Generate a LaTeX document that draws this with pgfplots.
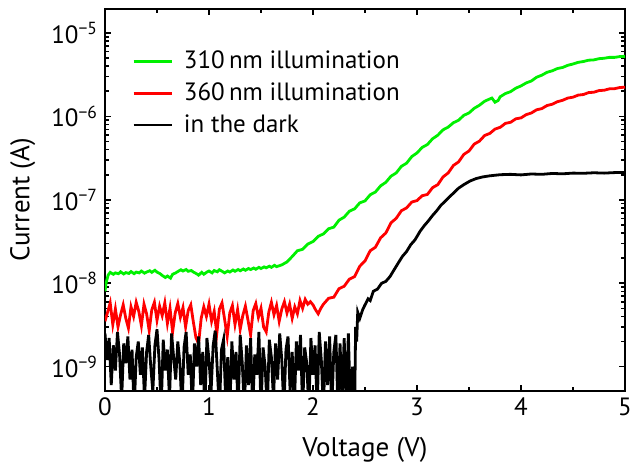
\documentclass[border=0pt]{standalone}
\usepackage{fontspec}
\setmainfont{PT Sans}
\usepackage{pgfplots}
\pgfplotsset{compat=1.18}

\begin{document}
\begin{tikzpicture}
\begin{axis}[
  name=ax,
  scale only axis,
  width=260pt, height=191pt,
  ymode=log,
  xmin=0, xmax=5,
  ymin=5.1e-10, ymax=1.94e-5,
  xtick={0,1,2,3,4,5},
  minor xtick={0.5,1.5,2.5,3.5,4.5},
  ytick={1e-9,1e-8,1e-7,1e-6,1e-5},
  yticklabels={10\textsuperscript{−9},10\textsuperscript{−8},10\textsuperscript{−7},10\textsuperscript{−6},10\textsuperscript{−5}},
  tick align=inside,
  major tick length=3pt, minor tick length=1.8pt,
  every tick/.style={line width=0.8pt, black},
  axis line style={line width=1pt},
  /pgf/number format/assume math mode=true,
  tick label style={font=\fontsize{12.5}{13}\selectfont},
  xlabel={Voltage (V)}, ylabel={Current (A)},
  label style={font=\fontsize{13.5}{15}\selectfont},
  xlabel style={at={(axis description cs:0.5,0)}, anchor=center, yshift=-29.5pt},
  ylabel style={at={(axis description cs:-0.158,0.5)}, anchor=center},
  legend style={draw=none, fill=none, at={(0.04,0.912)}, anchor=north west,
    font=\fontsize{12.5}{14}\selectfont, row sep=1.5pt,
    /tikz/every odd column/.style={column sep=3.5pt}},
  legend cell align=left,
  legend image code/.code={\draw[#1, line width=1.4pt] (0pt,0pt) -- (19pt,0pt);},
]
\addplot[color={rgb,255:red,0;green,240;blue,0}, line width=1.4pt] coordinates {
(0.00,8.0e-9) (0.01,1.0e-8) (0.03,1.25e-8) (0.05,1.35e-8) (0.08,1.28e-8) (0.10,1.33e-8)
(0.13,1.30e-8) (0.15,1.37e-8) (0.18,1.29e-8) (0.20,1.34e-8) (0.23,1.31e-8) (0.25,1.38e-8)
(0.28,1.30e-8) (0.30,1.36e-8) (0.33,1.33e-8) (0.35,1.40e-8) (0.38,1.32e-8) (0.40,1.36e-8)
(0.43,1.41e-8) (0.45,1.35e-8) (0.48,1.43e-8) (0.50,1.36e-8) (0.53,1.30e-8) (0.55,1.24e-8)
(0.58,1.17e-8) (0.60,1.22e-8) (0.63,1.15e-8) (0.65,1.28e-8) (0.68,1.33e-8) (0.70,1.38e-8)
(0.73,1.45e-8) (0.75,1.40e-8) (0.78,1.46e-8) (0.80,1.39e-8) (0.83,1.42e-8) (0.85,1.36e-8)
(0.88,1.30e-8) (0.90,1.25e-8) (0.93,1.35e-8) (0.95,1.28e-8) (0.98,1.36e-8) (1.00,1.40e-8)
(1.03,1.33e-8) (1.05,1.42e-8) (1.08,1.37e-8) (1.10,1.45e-8) (1.13,1.38e-8) (1.15,1.33e-8)
(1.18,1.40e-8) (1.20,1.36e-8) (1.23,1.44e-8) (1.25,1.39e-8) (1.28,1.46e-8) (1.30,1.41e-8)
(1.33,1.48e-8) (1.35,1.43e-8) (1.38,1.50e-8) (1.40,1.46e-8) (1.43,1.52e-8) (1.45,1.47e-8)
(1.48,1.55e-8) (1.50,1.50e-8) (1.53,1.57e-8) (1.55,1.53e-8) (1.58,1.60e-8) (1.60,1.55e-8)
(1.63,1.64e-8) (1.65,1.58e-8) (1.70,1.66e-8) (1.75,1.80e-8) (1.80,2.09e-8) (1.85,2.45e-8)
(1.90,2.55e-8) (1.95,2.95e-8) (2.00,3.16e-8) (2.05,3.65e-8) (2.10,3.90e-8) (2.15,4.50e-8)
(2.20,4.70e-8) (2.25,5.70e-8) (2.30,6.20e-8) (2.35,7.30e-8) (2.40,7.80e-8) (2.45,9.20e-8)
(2.50,9.70e-8) (2.55,1.15e-7) (2.60,1.24e-7) (2.65,1.47e-7) (2.70,1.62e-7) (2.75,1.92e-7)
(2.80,2.10e-7) (2.85,2.52e-7) (2.90,2.75e-7) (2.95,3.30e-7) (3.00,3.65e-7) (3.05,4.25e-7)
(3.10,4.60e-7) (3.15,5.40e-7) (3.20,5.95e-7) (3.25,6.90e-7) (3.30,7.45e-7) (3.35,8.40e-7)
(3.40,9.00e-7) (3.45,1.03e-6) (3.50,1.10e-6) (3.55,1.25e-6) (3.60,1.36e-6) (3.65,1.52e-6)
(3.70,1.62e-6) (3.72,1.66e-6) (3.75,1.48e-6) (3.78,1.55e-6) (3.80,1.72e-6) (3.85,1.88e-6)
(3.90,1.98e-6) (3.95,2.18e-6) (4.00,2.32e-6) (4.05,2.52e-6) (4.10,2.66e-6) (4.15,2.95e-6)
(4.20,3.12e-6) (4.25,3.38e-6) (4.30,3.52e-6) (4.35,3.75e-6) (4.40,3.86e-6) (4.45,4.10e-6)
(4.50,4.25e-6) (4.55,4.45e-6) (4.60,4.55e-6) (4.65,4.72e-6) (4.70,4.76e-6) (4.75,4.92e-6)
(4.80,4.98e-6) (4.85,5.10e-6) (4.90,5.10e-6) (4.95,5.22e-6) (5.00,5.25e-6)
};
\addlegendentry{310\,nm illumination}
\addplot[color={rgb,255:red,255;green,0;blue,0}, line width=1.4pt] coordinates {
(0.000,3.5e-9) (0.025,4.5e-9) (0.050,5.8e-9) (0.075,3.2e-9) (0.100,4.9e-9) (0.125,3.0e-9)
(0.150,4.2e-9) (0.175,5.5e-9) (0.200,3.8e-9) (0.225,2.9e-9) (0.250,5.2e-9) (0.275,4.0e-9)
(0.300,5.9e-9) (0.325,4.6e-9) (0.350,3.1e-9) (0.375,5.6e-9) (0.400,4.3e-9) (0.425,2.7e-9)
(0.450,4.8e-9) (0.475,5.9e-9) (0.500,3.6e-9) (0.525,5.3e-9) (0.550,4.1e-9) (0.575,5.8e-9)
(0.600,3.3e-9) (0.625,5.0e-9) (0.650,2.6e-9) (0.675,4.4e-9) (0.700,5.7e-9) (0.725,3.9e-9)
(0.750,5.1e-9) (0.775,3.0e-9) (0.800,4.7e-9) (0.825,5.5e-9) (0.850,3.4e-9) (0.875,2.2e-9)
(0.900,1.9e-9) (0.925,3.8e-9) (0.950,5.2e-9) (0.975,4.0e-9) (1.000,5.6e-9) (1.025,3.5e-9)
(1.050,4.6e-9) (1.075,2.5e-9) (1.100,4.9e-9) (1.125,5.8e-9) (1.150,3.7e-9) (1.175,2.3e-9)
(1.200,4.4e-9) (1.225,5.4e-9) (1.250,3.2e-9) (1.275,4.8e-9) (1.300,2.8e-9) (1.325,4.1e-9)
(1.350,5.3e-9) (1.375,3.6e-9) (1.400,2.4e-9) (1.425,4.7e-9) (1.450,5.7e-9) (1.475,3.9e-9)
(1.500,5.0e-9) (1.525,3.0e-9) (1.550,2.6e-9) (1.575,4.5e-9) (1.600,5.9e-9) (1.625,4.2e-9)
(1.650,5.4e-9) (1.675,3.5e-9) (1.700,4.9e-9) (1.725,6.0e-9) (1.750,4.4e-9) (1.775,5.6e-9)
(1.800,3.8e-9) (1.825,5.2e-9) (1.850,4.3e-9) (1.875,6.2e-9) (1.900,5.0e-9) (1.925,6.4e-9)
(1.950,5.6e-9) (1.975,6.0e-9) (2.000,5.5e-9) (2.025,4.8e-9) (2.050,4.3e-9) (2.075,5.0e-9)
(2.10,5.6e-9) (2.15,6.6e-9) (2.20,6.8e-9) (2.25,8.6e-9) (2.30,9.2e-9) (2.35,1.12e-8)
(2.40,1.2e-8) (2.45,1.6e-8) (2.50,1.85e-8) (2.55,2.45e-8) (2.60,2.7e-8) (2.65,3.5e-8)
(2.70,4.0e-8) (2.75,5.3e-8) (2.80,6.0e-8) (2.85,7.4e-8) (2.90,8.0e-8) (2.95,9.4e-8)
(3.00,9.8e-8) (3.05,1.12e-7) (3.10,1.16e-7) (3.15,1.40e-7) (3.20,1.52e-7) (3.25,1.88e-7)
(3.30,2.10e-7) (3.35,2.58e-7) (3.40,2.85e-7) (3.45,3.50e-7) (3.50,3.85e-7) (3.55,4.65e-7)
(3.60,5.05e-7) (3.65,5.90e-7) (3.70,6.25e-7) (3.75,7.05e-7) (3.80,7.40e-7) (3.85,8.25e-7)
(3.90,8.50e-7) (3.95,9.35e-7) (4.00,9.60e-7) (4.05,1.05e-6) (4.10,1.10e-6) (4.15,1.20e-6)
(4.20,1.24e-6) (4.25,1.35e-6) (4.30,1.40e-6) (4.35,1.50e-6) (4.40,1.56e-6) (4.45,1.66e-6)
(4.50,1.70e-6) (4.55,1.80e-6) (4.60,1.83e-6) (4.65,1.93e-6) (4.70,1.95e-6) (4.75,2.04e-6)
(4.80,2.06e-6) (4.85,2.14e-6) (4.90,2.15e-6) (4.95,2.22e-6) (5.00,2.24e-6)
};
\addlegendentry{360\,nm illumination}
\addplot[color=black, line width=1.4pt] coordinates {
(0.00,2.5e-9) (0.02,1.2e-9) (0.04,2.2e-9) (0.06,6e-10) (0.08,1.8e-9) (0.10,9e-10)
(0.12,2.6e-9) (0.14,1.4e-9) (0.16,4e-10) (0.18,1.9e-9) (0.20,1.1e-9) (0.22,2.3e-9)
(0.24,7e-10) (0.26,1.6e-9) (0.28,3e-10) (0.30,1.3e-9) (0.32,2.0e-9) (0.34,8e-10)
(0.36,1.7e-9) (0.38,4e-10) (0.40,1.5e-9) (0.42,2.4e-9) (0.44,1.0e-9) (0.46,5e-10)
(0.48,1.8e-9) (0.50,2.8e-9) (0.52,1.2e-9) (0.54,3e-10) (0.56,2.1e-9) (0.58,9e-10)
(0.60,1.6e-9) (0.62,4e-10) (0.64,2.5e-9) (0.66,1.3e-9) (0.68,7e-10) (0.70,2.0e-9)
(0.72,1.1e-9) (0.74,3e-10) (0.76,1.7e-9) (0.78,2.6e-9) (0.80,8e-10) (0.82,1.4e-9)
(0.84,3e-10) (0.86,1.9e-9) (0.88,1.0e-9) (0.90,2.3e-9) (0.92,6e-10) (0.94,1.5e-9)
(0.96,3e-10) (0.98,2.2e-9) (1.00,1.2e-9) (1.02,5e-10) (1.04,1.8e-9) (1.06,2.7e-9)
(1.08,9e-10) (1.10,3e-10) (1.12,1.6e-9) (1.14,2.1e-9) (1.16,4e-10) (1.18,1.3e-9)
(1.20,3e-10) (1.22,2.0e-9) (1.24,7e-10) (1.26,1.5e-9) (1.28,3e-10) (1.30,2.4e-9)
(1.32,1.1e-9) (1.34,3e-10) (1.36,1.8e-9) (1.38,6e-10) (1.40,2.2e-9) (1.42,3e-10)
(1.44,1.4e-9) (1.46,8e-10) (1.48,2.6e-9) (1.50,3e-10) (1.52,1.7e-9) (1.54,1.0e-9)
(1.56,3e-10) (1.58,2.1e-9) (1.60,1.3e-9) (1.62,4e-10) (1.64,1.9e-9) (1.66,7e-10)
(1.68,2.5e-9) (1.70,1.2e-9) (1.72,3e-10) (1.74,1.6e-9) (1.76,2.3e-9) (1.78,5e-10)
(1.80,1.5e-9) (1.82,3e-10) (1.84,2.0e-9) (1.86,9e-10) (1.88,2.4e-9) (1.90,3e-10)
(1.92,1.7e-9) (1.94,1.1e-9) (1.96,3e-10) (1.98,2.2e-9) (2.00,8e-10) (2.02,1.8e-9)
(2.04,3e-10) (2.06,2.6e-9) (2.08,1.2e-9) (2.10,3e-10) (2.12,2.0e-9) (2.14,6e-10)
(2.16,2.3e-9) (2.18,3e-10) (2.20,1.5e-9) (2.22,2.4e-9) (2.24,3e-10) (2.26,1.9e-9)
(2.28,4e-10) (2.30,2.2e-9) (2.32,3e-10) (2.34,2.5e-9) (2.36,3e-10) (2.38,1.0e-9)
(2.40,3e-10) (2.41,3.0e-9) (2.42,2.0e-9) (2.43,4.5e-9) (2.45,3.8e-9) (2.48,4.9e-9)
(2.50,5.5e-9) (2.53,6.5e-9) (2.55,6.2e-9) (2.58,8.0e-9) (2.62,8.5e-9) (2.66,1.0e-8)
(2.70,1.05e-8) (2.74,1.2e-8) (2.78,1.45e-8) (2.82,1.75e-8) (2.86,2.1e-8) (2.90,2.4e-8)
(2.94,2.9e-8) (2.98,3.3e-8) (3.03,4.2e-8) (3.07,4.9e-8) (3.11,5.6e-8) (3.15,6.5e-8)
(3.19,7.4e-8) (3.23,8.6e-8) (3.27,9.6e-8) (3.31,1.08e-7) (3.35,1.2e-7) (3.40,1.38e-7)
(3.45,1.52e-7) (3.51,1.68e-7) (3.57,1.80e-7) (3.63,1.88e-7) (3.70,1.94e-7) (3.80,2.0e-7)
(3.90,2.02e-7) (4.00,1.99e-7) (4.10,2.04e-7) (4.20,2.02e-7) (4.30,2.07e-7) (4.40,2.05e-7)
(4.50,2.09e-7) (4.60,2.08e-7) (4.70,2.11e-7) (4.80,2.09e-7) (4.90,2.12e-7) (5.00,2.12e-7)
};
\addlegendentry{in the dark}
\end{axis}
\pgfresetboundingbox
\path[use as bounding box] ([xshift=-52.5pt,yshift=-37.5pt]ax.south west) rectangle ([xshift=2.5pt,yshift=4.5pt]ax.north east);
\end{tikzpicture}
\end{document}
